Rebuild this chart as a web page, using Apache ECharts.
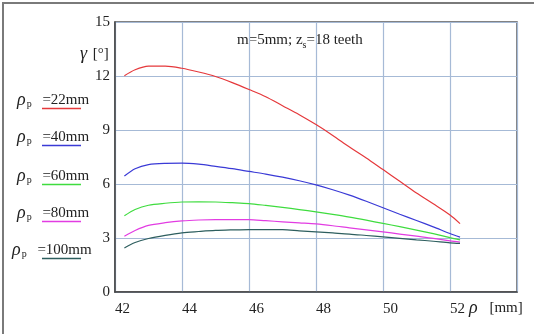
<!DOCTYPE html>
<html>
<head>
<meta charset="utf-8">
<script src="https://cdn.jsdelivr.net/npm/echarts@6/dist/echarts.min.js"></script>
<style>
  html, body { margin: 0; padding: 0; background: #fff; }
  #chart { width: 534px; height: 334px; }
</style>
</head>
<body>
<div id="chart"></div>
<script>
// Base radius rho [mm] at which the angle gamma is evaluated
const rho = [42.28, 42.6, 43.0, 43.5, 44.0, 44.5, 45.0, 45.5, 46.0, 46.5, 47.0,
             47.5, 48.0, 48.5, 49.0, 49.5, 50.0, 50.5, 51.0, 51.5, 52.0, 52.3];

// gamma [deg] for each curvature radius rho_p
const gamma22  = [12.02, 12.35, 12.55, 12.55, 12.43, 12.22, 11.97, 11.63, 11.25, 10.85, 10.35,
                  9.85, 9.30, 8.70, 8.05, 7.45, 6.80, 6.15, 5.50, 4.90, 4.28, 3.80];
const gamma40  = [6.44, 6.85, 7.08, 7.15, 7.16, 7.10, 6.98, 6.85, 6.70, 6.55, 6.38,
                  6.18, 5.95, 5.68, 5.38, 5.04, 4.68, 4.32, 3.97, 3.62, 3.25, 3.05];
const gamma60  = [4.23, 4.58, 4.82, 4.93, 5.00, 5.01, 5.00, 4.96, 4.91, 4.81, 4.70,
                  4.58, 4.45, 4.31, 4.16, 3.99, 3.81, 3.63, 3.44, 3.24, 3.02, 2.90];
const gamma80  = [3.10, 3.42, 3.70, 3.85, 3.95, 4.00, 4.02, 4.02, 4.02, 3.96, 3.90,
                  3.84, 3.78, 3.68, 3.56, 3.45, 3.34, 3.22, 3.10, 2.98, 2.84, 2.77];
const gamma100 = [2.45, 2.75, 2.97, 3.15, 3.29, 3.36, 3.42, 3.45, 3.47, 3.47, 3.46,
                  3.40, 3.34, 3.28, 3.22, 3.14, 3.06, 2.98, 2.90, 2.82, 2.73, 2.70];

const legendLabels = ['=22mm', '=40mm', '=60mm', '=80mm', '=100mm'];
const xTicks = [42, 44, 46, 48, 50, 52];
const yTicks = [0, 3, 6, 9, 12, 15];

const seriesValues = [gamma22, gamma40, gamma60, gamma80, gamma100];
const colors = ['#e5383b', '#3a3ad6', '#3fdc3f', '#e23ce2', '#2d5e5e'];

const chart = echarts.init(document.getElementById('chart'), null, { renderer: 'canvas' });
const serif = '"Liberation Serif", "DejaVu Serif", serif';

const series = seriesValues.map((vals, i) => ({
  type: 'line',
  name: legendLabels[i],
  data: rho.map((x, k) => [x, vals[k]]),
  smooth: 0.3,
  showSymbol: false,
  lineStyle: { color: colors[i], width: 1.2 },
  z: 3
}));

// Legend rows on the left: rho_p label with a coloured underline
const rowY = [100, 137, 176, 213, 250];
const rowX = [17, 17, 17, 17, 12];
const graphics = [
  // outer frame
  { type: 'rect', shape: { x: 3, y: 3, width: 560, height: 360 },
    style: { fill: null, stroke: '#7a7a7a', lineWidth: 2 }, silent: true },
  // y axis title
  { type: 'text', left: 80, top: 45,
    style: { text: '{g|γ} [°]', font: '15px ' + serif, fill: '#222',
      rich: { g: { fontStyle: 'italic', fontSize: 18, fontFamily: serif, fill: '#222', padding: [0, 2, 0, 0] } } } },
  // x axis title
  { type: 'text', left: 469, top: 299,
    style: { text: '{g|ρ} [mm]', font: '15px ' + serif, fill: '#222',
      rich: { g: { fontStyle: 'italic', fontSize: 18, fontFamily: serif, fill: '#222', padding: [0, 8, 0, 0] } } } },
  // parameters annotation
  { type: 'text', left: 237, top: 33,
    style: { text: 'm=5mm; z{s|s}=18 teeth', font: '15px ' + serif, fill: '#222',
      rich: { s: { fontSize: 10, fontFamily: serif, fill: '#222', verticalAlign: 'bottom', padding: [9, 0, 0, 0] } } } }
];
legendLabels.forEach((lab, i) => {
  graphics.push({
    type: 'text', left: rowX[i], top: rowY[i] - 9,
    style: {
      text: '{r|ρ}{p|p} ' + lab, font: '15px ' + serif, fill: '#222',
      rich: {
        r: { fontStyle: 'italic', fontSize: 18, fontFamily: serif, fill: '#222' },
        p: { fontSize: 10, fontFamily: serif, fill: '#222', padding: [8, 7, 0, 1] }
      }
    }
  });
  graphics.push({
    type: 'line', shape: { x1: 42, y1: rowY[i] + 8.5, x2: 81, y2: rowY[i] + 8.5 },
    style: { stroke: colors[i], lineWidth: 1.5 }, silent: true
  });
});

chart.setOption({
  animation: false,
  backgroundColor: '#ffffff',
  grid: {
    left: 115, right: 17, top: 22, bottom: 42,
    show: true, borderColor: '#5a5a5a', borderWidth: 1.5, backgroundColor: 'transparent'
  },
  xAxis: {
    type: 'value', min: 42, max: 54, interval: 2,
    axisLine: { show: true, onZero: false, lineStyle: { color: '#444', width: 1.5 } },
    axisTick: { show: false },
    axisLabel: {
      color: '#222', fontFamily: serif, fontSize: 15, margin: 10, align: 'left',
      formatter: v => (xTicks.indexOf(v) >= 0 ? String(v) : '')
    },
    splitLine: { show: true, lineStyle: { color: '#a6bad6', width: 1.2 } }
  },
  yAxis: {
    type: 'value', min: 0, max: 15, interval: 3,
    axisLine: { show: true, onZero: false, lineStyle: { color: '#444', width: 1.5 } },
    axisTick: { show: false },
    axisLabel: {
      color: '#222', fontFamily: serif, fontSize: 15, margin: 5,
      padding: [7, 0, 0, 0],
      formatter: v => (yTicks.indexOf(v) >= 0 ? String(v) : '')
    },
    splitLine: { show: true, lineStyle: { color: '#a6bad6', width: 1.2 } }
  },
  series: series,
  graphic: graphics
});
</script>
</body>
</html>
